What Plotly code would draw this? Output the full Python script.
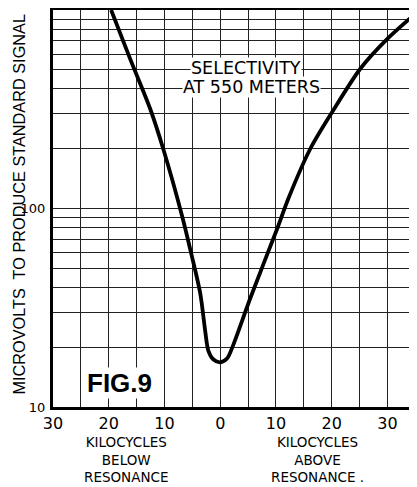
import plotly.graph_objects as go

# Data
kc = [-19.57, -16.16, -12.57, -10.23, -6.82, -5.21, -3.59, -2.69, -2.15, -1.26, 0.0,
      1.26, 2.33, 5.39, 10.23, 12.21, 16.16, 20.11, 25.13, 29.98, 35.37]
microvolts = [1000, 567, 318, 200, 91.2, 59.4, 37.4, 24.1, 19.3, 17.4, 16.8,
              17.6, 20.5, 35.3, 79.3, 112, 200, 307, 506, 715, 977]

x_tickvals = [-30, -25, -20, -15, -10, -5, 0, 5, 10, 15, 20, 25, 30, 35]
x_ticktext = ["30", "", "20", "", "10", "", "0", "", "10", "", "20", "", "30", ""]
y_tickvals = [10, 20, 30, 40, 50, 60, 70, 80, 90, 100, 200, 300, 400, 500, 600, 700, 800, 900, 1000]
y_ticktext = ["10", "", "", "", "", "", "", "", "", "100", "", "", "", "", "", "", "", "", ""]

y_title = "MICROVOLTS  TO PRODUCE STANDARD SIGNAL"
below_lines = ["KILOCYCLES", "BELOW", "RESONANCE"]
above_lines = ["KILOCYCLES", "ABOVE", "RESONANCE ."]

font_family = "DejaVu Sans, Liberation Sans, sans-serif"

fig = go.Figure()
fig.add_trace(go.Scatter(
    x=kc, y=microvolts, mode="lines",
    line=dict(color="black", width=3.8, shape="spline", smoothing=0.8),
    showlegend=False, hoverinfo="skip",
))

# The page body has an 8px margin, so the figure is sized/offset to compensate.
fig.update_layout(
    width=409, height=479,
    margin=dict(l=45, r=0, t=2, b=80, autoexpand=False),
    paper_bgcolor="white", plot_bgcolor="white",
    font=dict(family=font_family, color="black"),
    xaxis=dict(
        range=[-30, 35.3], tickmode="array", tickvals=x_tickvals, ticktext=x_ticktext,
        showgrid=True, gridcolor="#222", gridwidth=1, automargin=False,
        showline=True, linecolor="black", linewidth=3, mirror=True,
        zeroline=False, ticks="", tickfont=dict(size=16), ticklabelstandoff=0,
    ),
    yaxis=dict(
        type="log", range=[1, 3], tickmode="array", tickvals=y_tickvals, ticktext=y_ticktext,
        showgrid=True, gridcolor="#222", gridwidth=1, automargin=False,
        showline=True, linecolor="black", linewidth=3, mirror=True,
        zeroline=False, ticks="", tickfont=dict(size=13), ticklabelstandoff=2,
    ),
)

def note(x, y, text, size, **kw):
    fig.add_annotation(x=x, y=y, xref="paper", yref="paper", text=text, showarrow=False,
                       xanchor="center", yanchor="middle", font=dict(size=size, **kw.pop("f", {})), **kw)

note(-0.096, 0.51, y_title, 16.3, textangle=-90, f=dict(family="Liberation Sans, sans-serif"))
note(0.530, 0.854, "SELECTIVITY", 17.5, bgcolor="white", borderpad=0)
note(0.544, 0.806, "AT 550 METERS", 17.5, bgcolor="white", borderpad=0)
note(0.184, 0.06, "<b>FIG.9</b>", 26, bgcolor="white", borderpad=0, f=dict(family="Liberation Sans, sans-serif"))

note(0.203, -0.132, "<br>".join(below_lines), 13.5, align="center")
note(0.728, -0.132, "<br>".join(above_lines), 13.5, align="center")

fig.write_html("out.html")
